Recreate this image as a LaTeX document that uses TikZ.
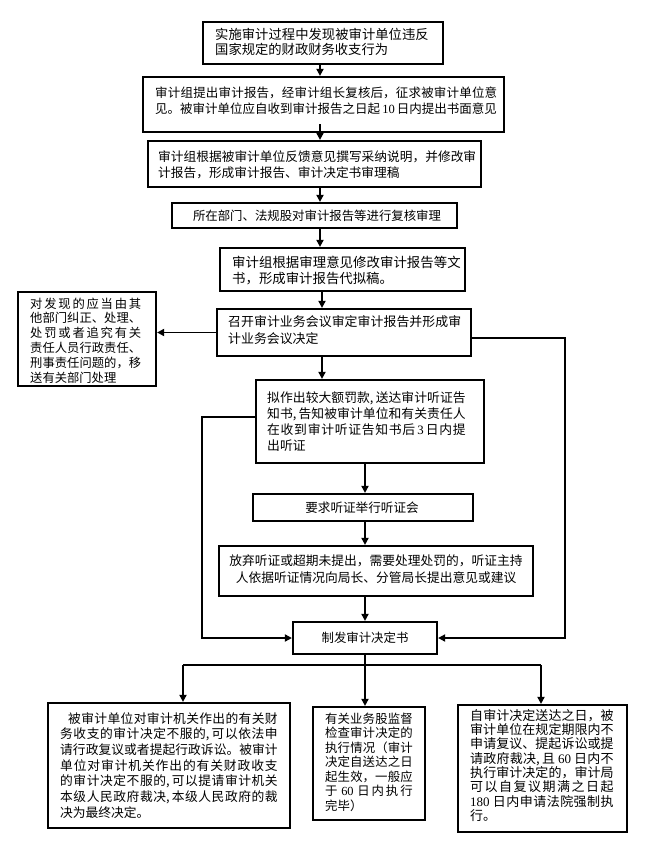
\documentclass[tikz,border=0pt]{standalone}
\usepackage{fontspec}
\setmainfont{Noto Sans CJK SC}
\newfontfamily\dg{Liberation Serif}
\usetikzlibrary{arrows.meta,fit,calc}
\XeTeXlinebreaklocale "zh"
\XeTeXlinebreakskip=0pt plus 3pt
\tolerance=10000
\hbadness=10000
\newcommand{\hcm}{\makebox[0.45em][l]{,}}
\begin{document}
\begin{tikzpicture}[x=1pt,y=-1pt,
  box/.style={draw, line width=2.2pt, inner sep=0pt},
  txt/.style={inner sep=0pt, anchor=north west, align=justify},
  ctxt/.style={inner sep=0pt, anchor=center},
  ln/.style={line width=1.8pt},
  arr/.style={line width=1.8pt, -{Triangle[length=7pt,width=7pt]}}]
\fill[white] (0,0) rectangle (645,844);
\useasboundingbox (0,0) rectangle (645,844);

\coordinate (c1) at (320,0);
\coordinate (c2) at (322,0);
\coordinate (rr) at (565,338);
\coordinate (ll) at (202,417);
\coordinate (bx1) at (183,665);
\coordinate (bx3) at (541,665);

% boxes
\node[box, fit={(203,22)(443,64)}] (b1) {};
\node[txt, text width=213.5pt, font=\fontsize{13.3}{15.5}\selectfont] (t1) at (215,28)
  {实施审计过程中发现被审计单位违反\linebreak 国家规定的财政财务收支行为};

\node[box, fit={(143,77)(504,132)}] (b2) {};
\node[txt, text width=342pt, font=\fontsize{12.5}{16}\selectfont] (t2) at (155,86.4)
  {审计组提出审计报告，经审计组长复核后，征求被审计单位意\linebreak 见。被审计单位应自收到审计报告之日起\,{\dg 10}\,日内提出书面意见};

\node[box, fit={(148,141)(481,187)}] (b3) {};
\node[txt, text width=318pt, font=\fontsize{12.7}{16}\selectfont] (t3) at (158,150.3)
  {审计组根据被审计单位反馈意见撰写采纳说明，并修改审\linebreak 计报告，形成审计报告、审计决定书审理稿};

\node[box, fit={(172,203)(457,228)}] (b4) {};
\node[ctxt, font=\fontsize{12.4}{15}\selectfont] (t4) at (317,215.5)
  {所在部门、法规股对审计报告等进行复核审理};

\node[box, fit={(220,248)(465,291)}] (b5) {};
\node[txt, text width=228.5pt, font=\fontsize{13.4}{16}\selectfont] (t5) at (232,256)
  {审计组根据审理意见修改审计报告等文\linebreak 书，形成审计报告代拟稿。};

\node[box, fit={(217,309)(471,356)}] (b6) {};
\node[txt, text width=233pt, font=\fontsize{12.9}{17}\selectfont] (t6) at (228,315.2)
  {召开审计业务会议审定审计报告并形成审\linebreak 计业务会议决定};

\node[box, fit={(18,292)(156,386)}] (L) {};
\node[txt, text width=111pt, font=\fontsize{12.3}{14.8}\selectfont] (tL) at (30,297.5)
  {对发现的应当由其\linebreak 他部门纠正、处理、\linebreak 处罚或者追究有关\linebreak 责任人员行政责任、\linebreak 刑事责任问题的，移\linebreak 送有关部门处理};

\node[box, fit={(256,380)(484,463)}] (b7) {};
\node[txt, text width=198.5pt, font=\fontsize{12.8}{16}\selectfont] (t7) at (267,391.2)
  {拟作出较大额罚款\hcm 送达审计听证告\linebreak 知书\hcm 告知被审计单位和有关责任人\linebreak 在收到审计听证告知书后\,{\dg 3}\,日内提\linebreak 出听证};

\node[box, fit={(253,494)(473,521)}] (b8) {};
\node[ctxt, font=\fontsize{12.6}{15}\selectfont] (t8) at (362,507.5) {要求听证举行听证会};

\node[box, fit={(219,546)(533,596)}] (b9) {};
\node[ctxt, align=center, font=\fontsize{12.75}{17}\selectfont] (t9) at (376,569.5)
  {放弃听证或超期未提出，需要处理处罚的，听证主持\\人依据听证情况向局长、分管局长提出意见或建议};

\node[box, fit={(293,622)(437,654)}] (dec) {};
\node[ctxt, font=\fontsize{12.4}{15}\selectfont] (td) at (365,638) {制发审计决定书};

\node[box, fit={(48,703)(290,828)}] (BL) {};
\node[txt, text width=217.5pt, font=\fontsize{12.75}{15.65}\selectfont] (tBL) at (60,712.3)
  {\hspace*{0.63em}被审计单位对审计机关作出的有关财\linebreak 务收支的审计决定不服的\hcm 可以依法申\linebreak 请行政复议或者提起行政诉讼。被审计\linebreak 单位对审计机关作出的有关财政收支\linebreak 的审计决定不服的\hcm 可以提请审计机关\linebreak 本级人民政府裁决\hcm 本级人民政府的裁\linebreak 决为最终决定。};

\node[box, fit={(313,707)(425,820)}] (BM) {};
\node[txt, text width=87.5pt, font=\fontsize{12.4}{14.5}\selectfont] (tBM) at (325,712.4)
  {有关业务股监督\linebreak 检查审计决定的\linebreak 执行情况（审计\linebreak 决定自送达之日\linebreak 起生效，一般应\linebreak 于 {\dg 60} 日内执行\linebreak 完毕）};

\node[box, fit={(458,705)(627,832)}] (BR) {};
\node[txt, text width=143.5pt, font=\fontsize{13}{14.3}\selectfont] (tBR) at (470,709.1)
  {自审计决定送达之日，被\linebreak 审计单位在规定期限内不\linebreak 申请复议、提起诉讼或提\linebreak 请政府裁决\hcm 且 {\dg 60} 日内不\linebreak 执行审计决定的，审计局\linebreak 可以自复议期满之日起\linebreak {\dg 180} 日内申请法院强制执\linebreak 行。};

% connectors
\draw[arr] (b1.south -| c1) -- (b2.north -| c1);
\draw[arr] ($(b2.south -| c1)+(0,-9)$) -- (b3.north -| c1);
\draw[arr] (b3.south -| c1) -- (b4.north -| c1);
\draw[arr] (b4.south -| c1) -- (b5.north -| c1);
\draw[arr] (b5.south -| c2) -- (b6.north -| c2);
\draw[arr] (b6.south -| c2) -- (b7.north -| c2);
\draw[arr] (b6.west) -- (b6.west -| L.east);
\draw[arr] (b6.east |- rr) -- (rr) -- (rr |- dec.east) -- (dec.east);
\draw[arr] (b7.west |- ll) -- (ll) -- (ll |- dec.west) -- (dec.west);
\draw[arr] (b7.south -| dec.north) -- (b8.north -| dec.north);
\draw[arr] (b8.south -| dec.north) -- (b9.north -| dec.north);
\draw[arr] (b9.south -| dec.north) -- (dec.north);
\draw[arr] (dec.south) -- (dec.south |- BM.north);
\draw[ln] (bx1) -- (bx3);
\draw[arr] (bx1) -- (bx1 |- BL.north);
\draw[arr] (bx3) -- (bx3 |- BR.north);
\end{tikzpicture}
\end{document}
